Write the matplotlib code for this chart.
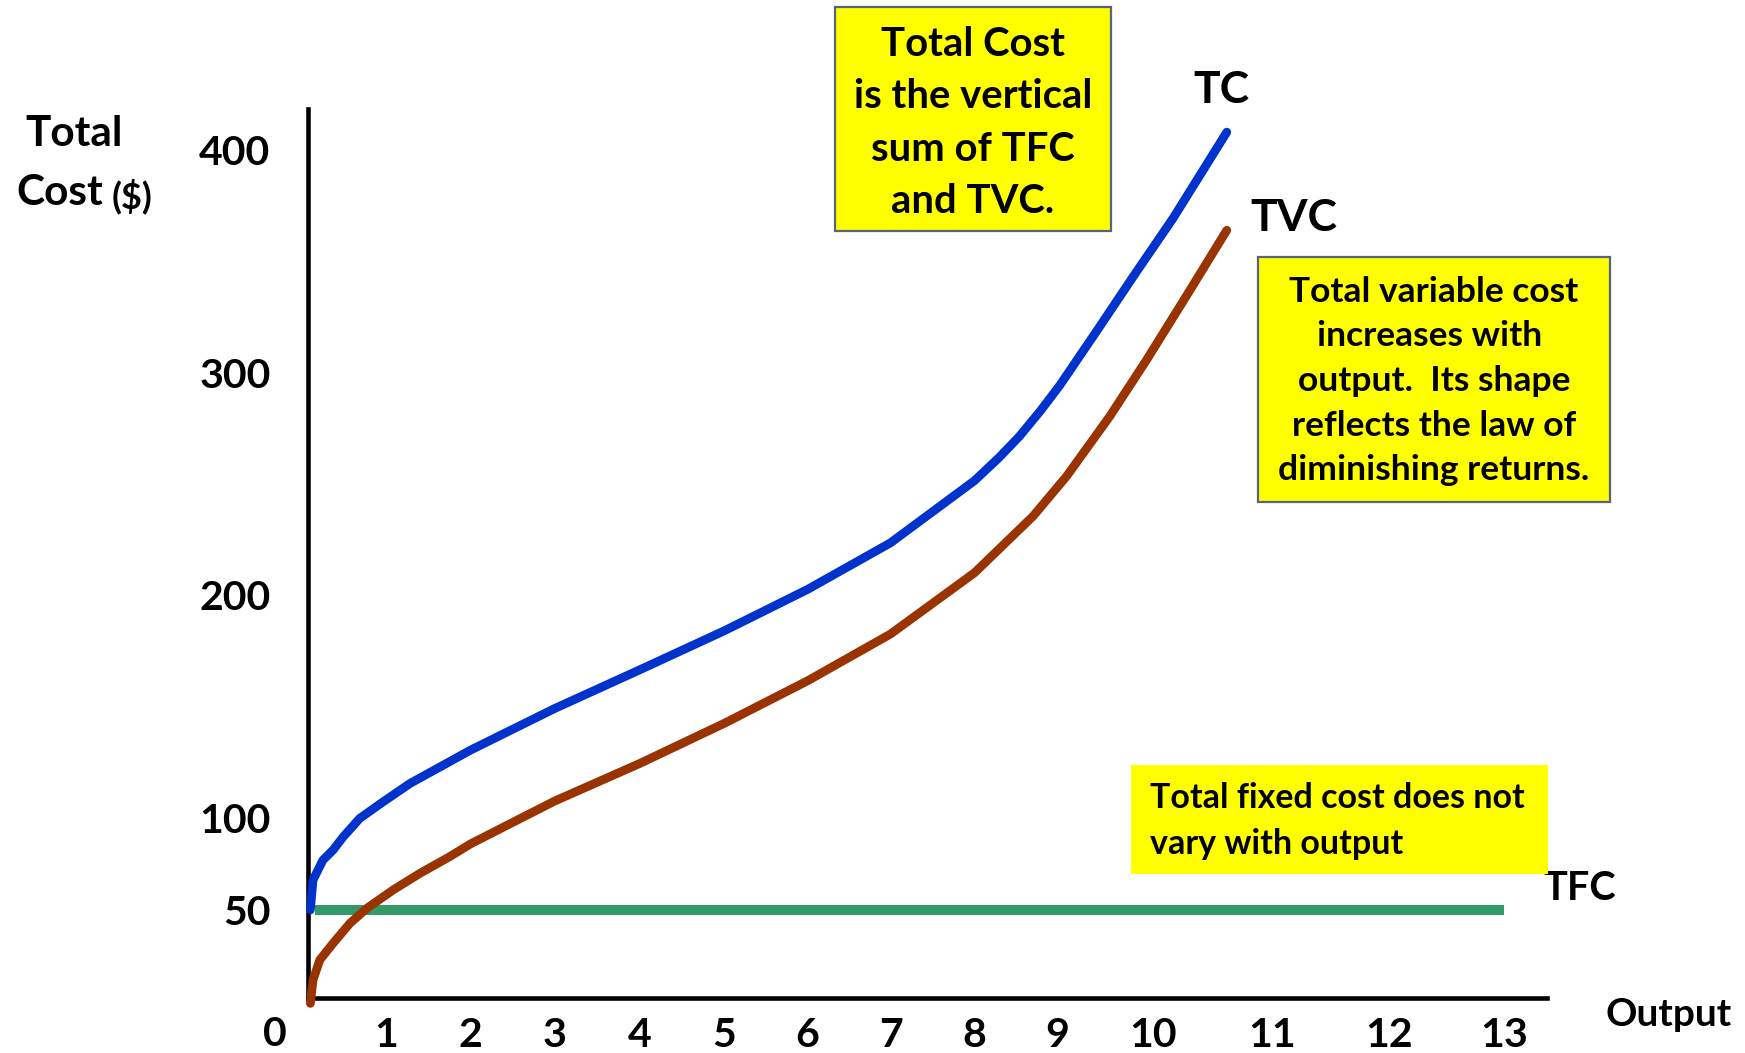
import numpy as np
import matplotlib
matplotlib.use("Agg")
import matplotlib.pyplot as plt
from matplotlib.patches import Rectangle

# ---------------- data ----------------
x_ticks = [1, 2, 3, 4, 5, 6, 7, 8, 9, 10, 11, 12, 13]
y_ticks = [50, 100, 200, 300, 400]

tc_x = [0.03, 0.064, 0.19, 0.32, 0.45, 0.66, 0.96, 1.28, 2, 3, 4, 5, 6, 7, 8,
        8.30, 8.545, 8.80, 9.03, 9.44, 9.79, 10.17, 10.62]
tc_y = [50, 66.3, 77.1, 82.6, 89.8, 99.8, 107.3, 115.5, 130.5, 149, 166.5, 184, 202.5,
        223.5, 251.5, 262, 271.5, 283, 294.5, 320.5, 343, 369.5, 408]

tvc_x = [0.03, 0.064, 0.15, 0.32, 0.534, 0.75, 1.08, 1.40, 1.75, 2, 3, 4, 5, 6, 7, 8,
         8.71, 9.10, 9.55, 9.935, 10.28, 10.62]
tvc_y = [-3, 10.2, 21.6, 31.1, 42.4, 50.9, 60.9, 70, 79, 86, 107.5, 124.5, 142.5, 161.5,
         182.5, 210, 235.5, 253.5, 280.5, 306, 334.5, 364]

tfc_x = [0.09, 13]
tfc_y = [50, 50]

# hand-drawn axes: uneven spacing of the printed tick values (pixel positions)
x_scale_vals = [-10, 0, 1, 2, 3, 4, 5, 6, 7, 8, 9, 10, 11, 12, 13, 30]
x_scale_pos = [308 - 785, 308, 386.4, 470.8, 554.2, 640, 724.5, 807.5, 890.5, 974.5, 1057,
               1153, 1272, 1389, 1504, 1504 + 17 * 115]
y_scale_vals = [-100, 0, 50, 100, 200, 300, 400, 1000]
y_scale_pos = [-180, 0, 88, 180, 403, 625, 848, 848 + 600 * 2.23]

W, H = 1745, 1053
FONT = "Lato"

def fx(px):
    return px / W

def fy(py):
    return 1 - py / H

fig = plt.figure(figsize=(W / 100, H / 100), dpi=100)
fig.patch.set_facecolor("white")

ax_l, ax_r, ax_t, ax_b = 308, 1547, 109, 998
ax = fig.add_axes([fx(ax_l), fy(ax_b), (ax_r - ax_l) / W, (ax_b - ax_t) / H])

def xf(v):
    return np.interp(v, x_scale_vals, x_scale_pos)

def xi(p):
    return np.interp(p, x_scale_pos, x_scale_vals)

def yf(v):
    return np.interp(v, y_scale_vals, y_scale_pos)

def yi(p):
    return np.interp(p, y_scale_pos, y_scale_vals)

ax.set_xscale("function", functions=(xf, xi))
ax.set_yscale("function", functions=(yf, yi))
ax.set_xlim(0, float(xi(ax_r)))
ax.set_ylim(0, float(yi(ax_b - ax_t)))

for s in ["top", "right"]:
    ax.spines[s].set_visible(False)
for s in ["left", "bottom"]:
    ax.spines[s].set_linewidth(3.3)
    ax.spines[s].set_color("black")
    ax.spines[s].set_capstyle("projecting")

ax.plot(tfc_x, tfc_y, color="#339966", lw=7.2, solid_capstyle="butt", clip_on=False, zorder=3)
ax.plot(tc_x, tc_y, color="#0033CC", lw=6.3, solid_capstyle="round", solid_joinstyle="round",
        clip_on=False, zorder=4)
ax.plot(tvc_x, tvc_y, color="#993300", lw=6.3, solid_capstyle="round", solid_joinstyle="round",
        clip_on=False, zorder=4)

ax.set_xticks(x_ticks)
ax.set_xticklabels([str(v) for v in x_ticks])
ax.set_yticks(y_ticks)
ax.set_yticklabels([str(v) for v in y_ticks])
ax.minorticks_off()
ax.tick_params(axis="both", length=0)
ax.tick_params(axis="y", pad=27)
ax.tick_params(axis="x", pad=14)
for lab in ax.get_xticklabels() + ax.get_yticklabels():
    lab.set_fontfamily(FONT)
    lab.set_fontweight("bold")
    lab.set_fontsize(29.5)

lbl = dict(family=FONT, fontweight="bold", color="black")

# origin label
fig.text(fx(275), fy(1035), "0", ha="center", va="center", fontsize=29.5, **lbl)
# axis titles
fig.text(fx(1669), fy(1015), "Output", ha="center", va="center", fontsize=28, **lbl)
fig.text(fx(25), fy(134), "Total", ha="left", va="center", fontsize=30.5, **lbl)
fig.text(fx(16), fy(193), "Cost", ha="left", va="center", fontsize=30.5, **lbl)
fig.text(fx(112), fy(196), "($)", ha="left", va="center", fontsize=26, **lbl)

# curve labels
ax.annotate("TC", xy=(tc_x[-1], tc_y[-1]), xytext=(-5, 42), textcoords="offset pixels",
            ha="center", va="center", fontsize=32, annotation_clip=False, **lbl)
ax.annotate("TVC", xy=(tvc_x[-1], tvc_y[-1]), xytext=(67, 12), textcoords="offset pixels",
            ha="center", va="center", fontsize=32, annotation_clip=False, **lbl)
ax.annotate("TFC", xy=(tfc_x[-1], tfc_y[-1]), xytext=(76, 22), textcoords="offset pixels",
            ha="center", va="center", fontsize=28.5, annotation_clip=False, **lbl)

# note boxes
def box(x0, y0, x1, y1, edge):
    r = Rectangle((fx(x0), fy(y1)), (x1 - x0) / W, (y1 - y0) / H, transform=fig.transFigure,
                  facecolor="#FFFF00", edgecolor=edge if edge else "none",
                  linewidth=1.6 if edge else 0, zorder=5)
    fig.add_artist(r)

box(835, 7, 1111, 231, "#56647c")
fig.text(fx(973), fy(123), "Total Cost\nis the vertical\nsum of TFC\nand TVC.", ha="center",
         va="center", fontsize=28.8, linespacing=1.51, zorder=6, **lbl)

box(1258, 257, 1610, 502, "#56647c")
fig.text(fx(1434), fy(381), "Total variable cost\nincreases with \noutput.  Its shape\nreflects the law of\ndiminishing returns.",
         ha="center", va="center", fontsize=25.5, linespacing=1.49, zorder=6, **lbl)

box(1131, 765, 1548, 874, None)
fig.text(fx(1150), fy(821), "Total fixed cost does not\nvary with output", ha="left",
         va="center", fontsize=24.5, linespacing=1.515, zorder=6, **lbl)

fig.savefig("out.png", dpi=100, facecolor="white")
